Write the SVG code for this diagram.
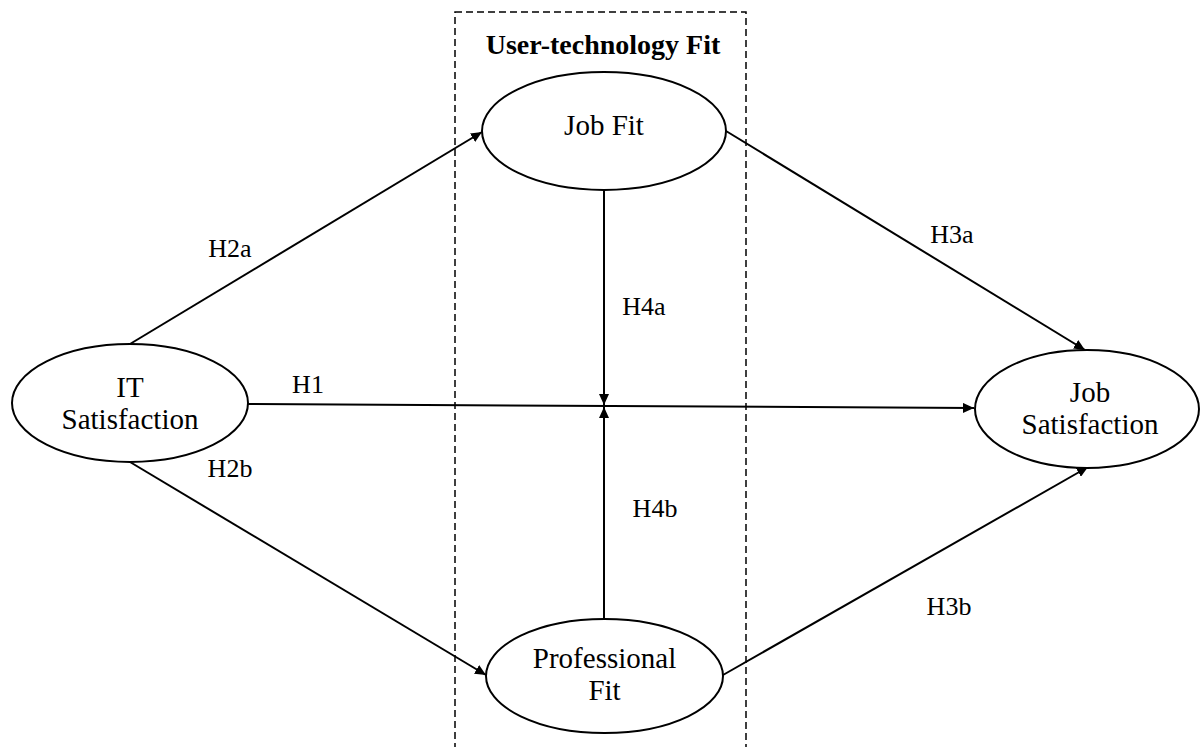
<svg xmlns="http://www.w3.org/2000/svg" width="1200" height="747" viewBox="0 0 1200 747">
  <style>
    .node { fill: #ffffff; stroke: #000000; stroke-width: 2; }
    .ntext { font-family: "Liberation Serif", "Times New Roman", serif; font-size: 29px; fill: #000000; text-anchor: middle; }
    .label { font-family: "Liberation Serif", "Times New Roman", serif; font-size: 26px; fill: #000000; text-anchor: middle; }
    .title { font-family: "Liberation Serif", "Times New Roman", serif; font-size: 28px; font-weight: bold; fill: #000000; text-anchor: middle; }
    .edge { fill: none; stroke: #000000; stroke-width: 2; marker-end: url(#arrow); }
    .edge-plain { fill: none; stroke: #000000; stroke-width: 2; }
    .frame { fill: none; stroke: #000000; stroke-width: 1.5; stroke-dasharray: 7 4; }
  </style>
  <defs>
    <marker id="arrow" markerUnits="userSpaceOnUse" markerWidth="11" markerHeight="10" refX="11" refY="5" orient="auto">
      <path d="M0,0 L11,5 L0,10 Z" fill="#000000"/>
    </marker>
  </defs>
  <rect width="1200" height="747" fill="#ffffff"/>

  <g id="user-technology-fit">
    <rect class="frame" x="455" y="12" width="291" height="760"/>
    <text class="title" x="603" y="54">User-technology Fit</text>
  </g>

  <g id="connectors">
    <line class="edge" x1="130" y1="344" x2="482" y2="132"/>
    <line class="edge" x1="130" y1="462" x2="486" y2="675"/>
    <line class="edge" x1="248" y1="404" x2="974" y2="408"/>
    <line class="edge" x1="726" y1="131" x2="1085" y2="350"/>
    <line class="edge" x1="723" y1="675" x2="1088" y2="467"/>
    <line class="edge" x1="604" y1="190" x2="604" y2="405"/>
    <line class="edge" x1="604" y1="619" x2="604" y2="407"/>
  </g>

  <g id="labels">
    <text class="label" x="230" y="257">H2a</text>
    <text class="label" x="230" y="477">H2b</text>
    <text class="label" x="308" y="393">H1</text>
    <text class="label" x="952" y="243">H3a</text>
    <text class="label" x="949" y="615">H3b</text>
    <text class="label" x="644" y="315">H4a</text>
    <text class="label" x="655" y="517">H4b</text>
  </g>

  <g id="it-satisfaction">
    <ellipse class="node" cx="130" cy="403" rx="118" ry="59"/>
    <text class="ntext" x="130" y="397">IT</text>
    <text class="ntext" x="130" y="429">Satisfaction</text>
  </g>

  <g id="job-fit">
    <ellipse class="node" cx="604" cy="131" rx="122" ry="59"/>
    <text class="ntext" x="604" y="135">Job Fit</text>
  </g>

  <g id="professional-fit">
    <ellipse class="node" cx="604.5" cy="676" rx="118.5" ry="57"/>
    <text class="ntext" x="604.5" y="668">Professional</text>
    <text class="ntext" x="604.5" y="700">Fit</text>
  </g>

  <g id="job-satisfaction">
    <ellipse class="node" cx="1087" cy="409" rx="112" ry="59"/>
    <text class="ntext" x="1090" y="402">Job</text>
    <text class="ntext" x="1090" y="434">Satisfaction</text>
  </g>
</svg>
